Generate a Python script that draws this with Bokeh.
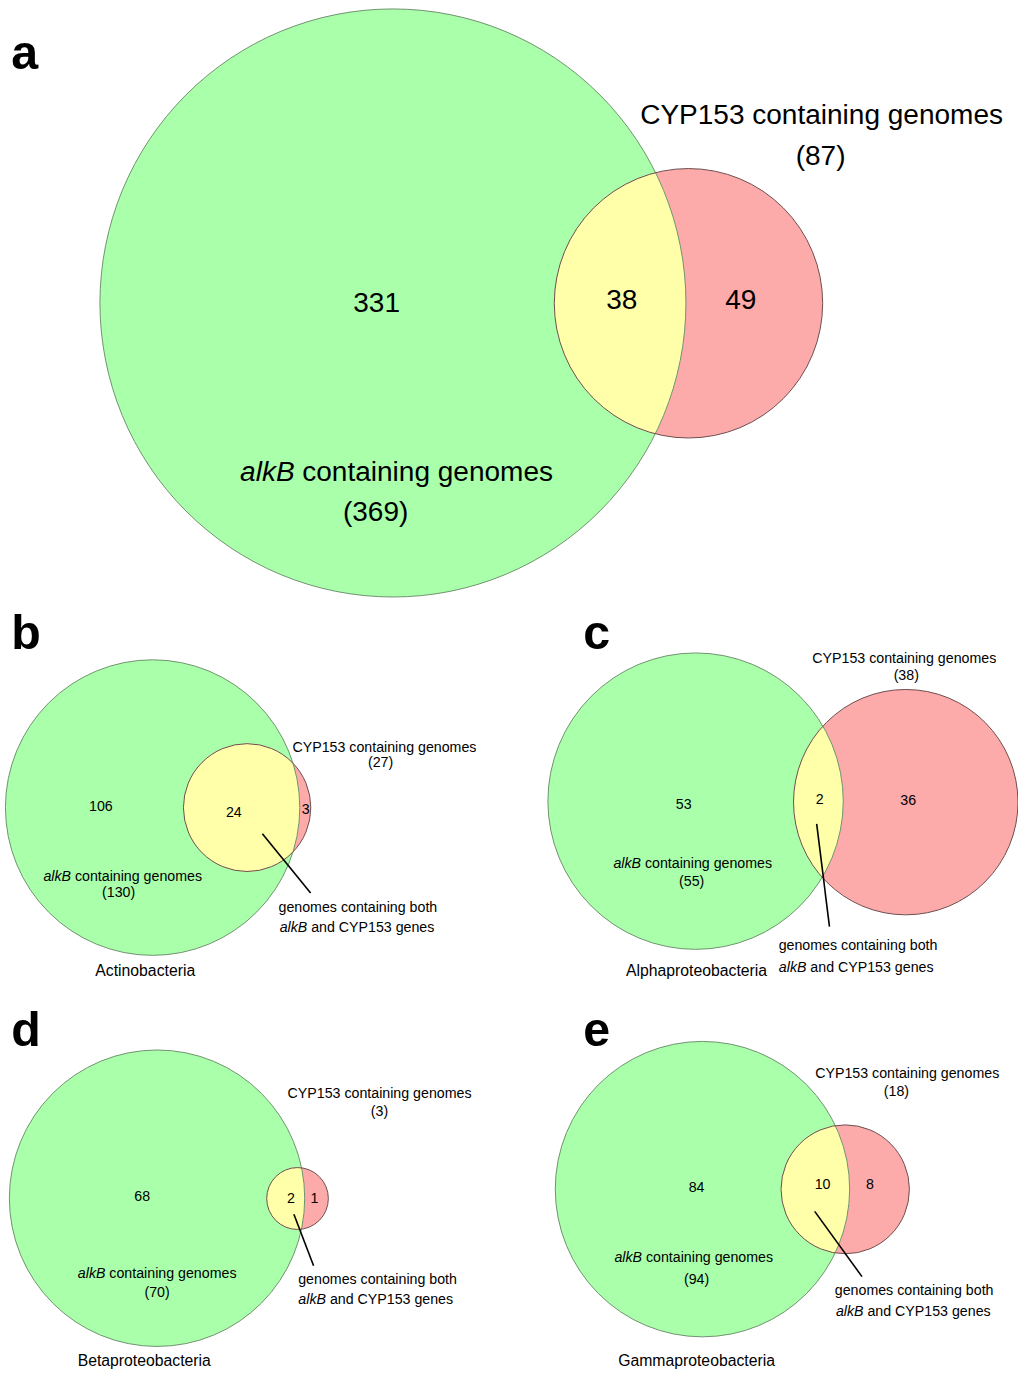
import math
from bokeh.plotting import figure
from bokeh.models import Range1d, ColumnDataSource
from bokeh.core.properties import value
from bokeh.embed import file_html
from bokeh.resources import INLINE

# ---------------- data ----------------
panel_ids = ["a", "b", "c", "d", "e"]
taxa = ["", "Actinobacteria", "Alphaproteobacteria", "Betaproteobacteria", "Gammaproteobacteria"]
alkb_only = [331, 106, 53, 68, 84]
both_genes = [38, 24, 2, 2, 10]
cyp_only = [49, 3, 36, 1, 8]
alkb_total = [369, 130, 55, 70, 94]
cyp_total = [87, 27, 38, 3, 18]

# ---------------- layout (positions / sizes in a 1034 x 1387 canvas) ----------------
LAYOUT = {
    "a": dict(green=(398.6, 306.0, 297.6), red=(698.8, 306.3, 136.3), fs=28.4,
              n_alk=(382, 306), n_both=(631, 302), n_cyp=(752, 302),
              cyp_lab=(834, 115), cyp_cnt=(833, 157), alk_lab=(402, 477), alk_cnt=(381, 517),
              both1=None, both2=None, taxon=None, leader=None, letter=(11, 52)),
    "b": dict(green=(154.5, 816.5, 149.5), red=(250.5, 816.5, 64.7), fs=14.4,
              n_alk=(102, 815), n_both=(237, 821), n_cyp=(310, 818),
              cyp_lab=(390, 755), cyp_cnt=(386, 770), alk_lab=(124, 886), alk_cnt=(120, 902),
              both1=(363, 917), both2=(362, 937), taxon=(147, 981),
              leader=(266, 843, 315, 903), letter=(11, 639)),
    "c": dict(green=(706.0, 810.0, 150.0), red=(919.5, 811.0, 114.0), fs=14.4,
              n_alk=(694, 813), n_both=(832, 808), n_cyp=(922, 809),
              cyp_lab=(918, 665), cyp_cnt=(920, 682), alk_lab=(703, 873), alk_cnt=(702, 891),
              both1=(871, 956), both2=(869, 978), taxon=(707, 981),
              leader=(829, 833, 842, 937), letter=(592, 639)),
    "d": dict(green=(159.0, 1211.7, 150.0), red=(301.7, 1212.0, 31.3), fs=14.4,
              n_alk=(144, 1209), n_both=(295, 1211), n_cyp=(319, 1211),
              cyp_lab=(385, 1105), cyp_cnt=(385, 1123), alk_lab=(159, 1287), alk_cnt=(159, 1307),
              both1=(383, 1293), both2=(381, 1314), taxon=(146, 1376),
              leader=(298, 1228, 318, 1280), letter=(11, 1041)),
    "e": dict(green=(713.0, 1202.5, 149.5), red=(858.0, 1202.7, 65.2), fs=14.4,
              n_alk=(707, 1200), n_both=(835, 1197), n_cyp=(883, 1197),
              cyp_lab=(921, 1085), cyp_cnt=(910, 1103), alk_lab=(704, 1271), alk_cnt=(707, 1293),
              both1=(928, 1305), both2=(927, 1326), taxon=(707, 1376),
              leader=(827, 1225, 875, 1291), letter=(592, 1041)),
}
LETTER_FS = 49
TAXON_FS = 16

CANVAS_W, CANVAS_H = 1034, 1387
FIG_W, FIG_H = 1018, 1371
SX = FIG_W / CANVAS_W
SY = FIG_H / CANVAS_H
SF = (SX + SY) / 2.0

GREEN = "#AAFFAA"
RED = "#FDAAAA"
YELLOW = "#FFFFAA"
GREEN_LINE = "#6f936f"
RED_LINE = "#6e4f4f"
FONT = "Liberation Sans"

# Arial / Liberation Sans advance widths (per 1000 em)
ADV = {' ': 278, 'a': 556, 'b': 556, 'c': 500, 'd': 556, 'e': 556, 'g': 556, 'h': 556,
       'i': 222, 'k': 500, 'l': 222, 'm': 833, 'n': 556, 'o': 556, 'p': 556, 'r': 333,
       's': 500, 't': 278, 'A': 667, 'B': 667, 'C': 722, 'P': 667, 'Y': 667,
       '(': 333, ')': 333}
for dgt in "0123456789":
    ADV[dgt] = 556


def text_width(s, fs):
    return sum(ADV.get(ch, 556) for ch in s) / 1000.0 * fs


p = figure(width=FIG_W, height=FIG_H, output_backend="svg", toolbar_location=None,
           x_range=Range1d(0, CANVAS_W), y_range=Range1d(CANVAS_H, 0),
           x_axis_location=None, y_axis_location=None,
           min_border=0, min_border_left=0, min_border_right=0,
           min_border_top=0, min_border_bottom=0)
p.grid.visible = False
p.outline_line_color = None
p.background_fill_color = "white"
p.border_fill_color = "white"

texts = {}


def add_text(x, y, s, fs, style="normal", align="center"):
    key = (style, align, round(fs * SF, 2))
    d = texts.setdefault(key, dict(x=[], y=[], text=[]))
    d["x"].append(x)
    d["y"].append(y)
    d["text"].append(s)


def add_mixed(cx, cy, ital, rest, fs):
    w1 = text_width(ital + " ", fs)
    w2 = text_width(rest, fs)
    left = cx - (w1 + w2) / 2.0
    add_text(left, cy, ital, fs, style="italic", align="left")
    add_text(left + w1, cy, rest, fs, style="normal", align="left")


def lens(c1, c2, n=90):
    x1, y1, r1 = c1
    x2, y2, r2 = c2
    dx, dy = x2 - x1, y2 - y1
    d = math.hypot(dx, dy)
    a = (d * d + r1 * r1 - r2 * r2) / (2 * d)
    h = math.sqrt(max(r1 * r1 - a * a, 0.0))
    t12 = math.atan2(dy, dx)
    t21 = t12 + math.pi
    a1 = math.atan2(h, a)
    a2 = math.atan2(h, d - a)
    xs, ys = [], []
    for i in range(n + 1):
        t = t12 - a1 + 2 * a1 * i / n
        xs.append(x1 + r1 * math.cos(t))
        ys.append(y1 + r1 * math.sin(t))
    for i in range(n + 1):
        t = t21 - a2 + 2 * a2 * i / n
        xs.append(x2 + r2 * math.cos(t))
        ys.append(y2 + r2 * math.sin(t))
    return xs, ys


gx, gy, gd, rx, ry, rd = [], [], [], [], [], []
lx, ly = [], []
seg = dict(x0=[], y0=[], x1=[], y1=[])

for i, pid in enumerate(panel_ids):
    L = LAYOUT[pid]
    g, r = L["green"], L["red"]
    gx.append(g[0]); gy.append(g[1]); gd.append(2 * g[2])
    rx.append(r[0]); ry.append(r[1]); rd.append(2 * r[2])
    xs, ys = lens(g, r)
    lx.append(xs); ly.append(ys)
    fs = L["fs"]
    add_text(*L["n_alk"], str(alkb_only[i]), fs)
    add_text(*L["n_both"], str(both_genes[i]), fs)
    add_text(*L["n_cyp"], str(cyp_only[i]), fs)
    add_text(*L["cyp_lab"], "CYP153 containing genomes", fs)
    add_text(*L["cyp_cnt"], "(%d)" % cyp_total[i], fs)
    add_mixed(*L["alk_lab"], "alkB", "containing genomes", fs)
    add_text(*L["alk_cnt"], "(%d)" % alkb_total[i], fs)
    if L["both1"]:
        add_text(*L["both1"], "genomes containing both", fs)
        add_mixed(*L["both2"], "alkB", "and CYP153 genes", fs)
    if L["taxon"] and taxa[i]:
        add_text(*L["taxon"], taxa[i], TAXON_FS)
    if L["leader"]:
        x0, y0, x1, y1 = L["leader"]
        seg["x0"].append(x0); seg["y0"].append(y0)
        seg["x1"].append(x1); seg["y1"].append(y1)
    add_text(*L["letter"], pid, LETTER_FS, style="bold", align="left")

# fills
p.ellipse(x=gx, y=gy, width=gd, height=gd, fill_color=GREEN, line_color=None)
p.ellipse(x=rx, y=ry, width=rd, height=rd, fill_color=RED, line_color=None)
p.patches(xs=lx, ys=ly, fill_color=YELLOW, line_color=None)
# outlines
p.ellipse(x=gx, y=gy, width=gd, height=gd, fill_color=None, line_color=GREEN_LINE, line_width=1)
p.ellipse(x=rx, y=ry, width=rd, height=rd, fill_color=None, line_color=RED_LINE, line_width=1)
# leader lines
p.segment(x0="x0", y0="y0", x1="x1", y1="y1", source=ColumnDataSource(seg),
          line_color="black", line_width=1.6)

for (style, align, fsz), d in texts.items():
    p.text(x="x", y="y", text="text", source=ColumnDataSource(d),
           text_font=value(FONT), text_font_size=value("%spx" % fsz),
           text_font_style=style, text_align=align, text_baseline="middle",
           text_color="black")

open("out.html", "w").write(file_html(p, INLINE))
